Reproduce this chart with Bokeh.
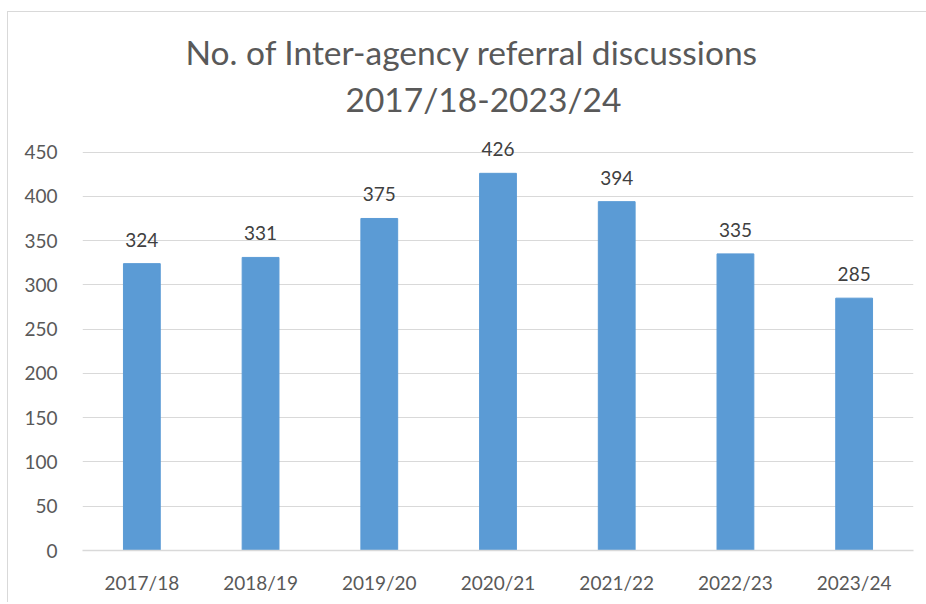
from bokeh.plotting import figure
from bokeh.models import ColumnDataSource, FixedTicker, Range1d, Title
from bokeh.core.properties import value
from bokeh.embed import file_html
from bokeh.resources import INLINE

years = ["2017/18", "2018/19", "2019/20", "2020/21", "2021/22", "2022/23", "2023/24"]
counts = [324, 331, 375, 426, 394, 335, 285]
y_ticks = [0, 50, 100, 150, 200, 250, 300, 350, 400, 450]
title_line1 = "No. of Inter-agency referral discussions"
title_line2 = "2017/18-2023/24"

FONT = "Lato"

src = ColumnDataSource(dict(x=years, y=counts, lab=[str(v) for v in counts]))

p = figure(x_range=years, y_range=Range1d(0, 480), width=919, height=591,
           output_backend="svg", toolbar_location=None, title=None,
           min_border_left=74, min_border_right=14, min_border_top=113,
           min_border_bottom=53)
p.styles = {"border-left": "1px solid #d9d9d9", "border-top": "1px solid #d9d9d9",
            "margin-left": "7px", "margin-top": "11px"}
p.outline_line_color = None

p.vbar(x="x", top="y", width=0.31, source=src, color="#5b9bd5")
p.text(x="x", y="y", text="lab", source=src, text_align="center",
       text_baseline="bottom", y_offset=-17, text_font=value(FONT),
       text_font_size="19px", text_color="#404040")

p.xgrid.grid_line_color = None
p.ygrid.grid_line_color = "#d9d9d9"
p.ygrid.grid_line_width = 1.2
p.yaxis.ticker = FixedTicker(ticks=y_ticks)

for ax in (p.xaxis, p.yaxis):
    ax.major_tick_line_color = None
    ax.minor_tick_line_color = None
    ax.major_label_text_font = FONT
    ax.major_label_text_font_size = "19px"
    ax.major_label_text_color = "#595959"
p.yaxis.axis_line_color = None
p.xaxis.axis_line_color = "#d9d9d9"
p.xaxis.axis_line_width = 1.5
p.yaxis.major_label_standoff = 19
p.xaxis.major_label_standoff = 14

for txt, off, so in ((title_line2, 263, 13), (title_line1, 103, -3)):
    p.add_layout(Title(text=txt, align="left", offset=off, standoff=so,
                       text_font=FONT, text_font_size="33.5px",
                       text_font_style="normal", text_color="#595959"), "above")

open("out.html", "w").write(file_html(p, INLINE))
